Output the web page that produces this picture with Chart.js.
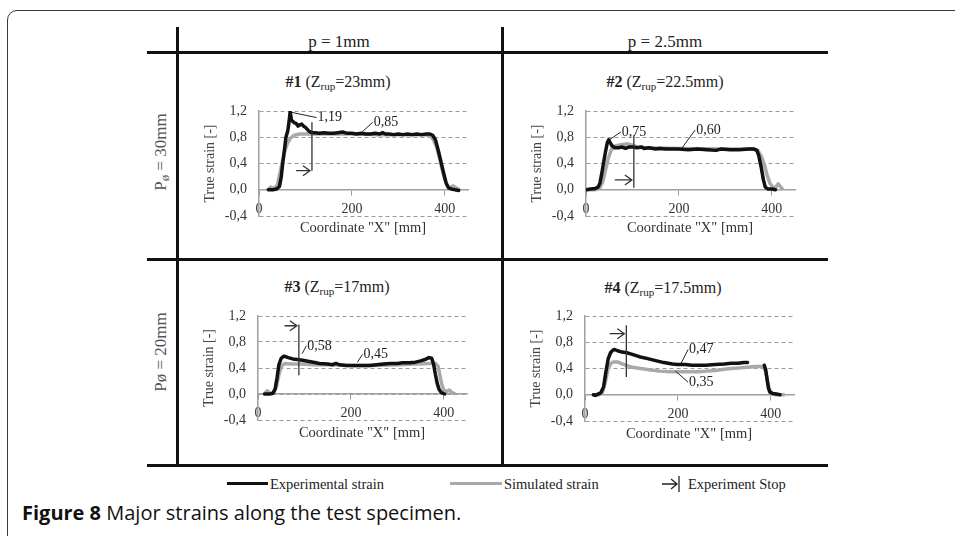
<!DOCTYPE html>
<html>
<head>
<meta charset="utf-8">
<script src="https://cdn.jsdelivr.net/npm/chart.js@4.4.1/dist/chart.umd.min.js"></script>
<style>
  html, body { margin: 0; padding: 0; background: #fff; }
  body { width: 955px; height: 536px; position: relative; overflow: hidden; font-family: "Liberation Serif", serif; color: #222; }
  .frame { position: absolute; left: 7px; top: 10px; width: 980px; height: 580px; border: 1.5px solid #3a3a3a; border-top-left-radius: 10px; box-sizing: border-box; }
  .rule { position: absolute; background: #111; }
  .t { position: absolute; white-space: nowrap; transform: translate(-50%, -50%); line-height: 1; }
  .head { font-size: 17px; color: #222; }
  .ttl { font-size: 16px; color: #222; }
  .ttl sub { font-size: 11px; vertical-align: -3px; line-height: 0; }
  .side { font-size: 17px; color: #555; transform: translate(-50%, -50%) rotate(-90deg); }
  .side sub { font-size: 13px; vertical-align: -3px; line-height: 0; }
  .xt { font-size: 14.5px; color: #333; }
  .chart { position: absolute; }
  .leg { position: absolute; font-size: 14.5px; color: #222; top: 476px; white-space: nowrap; }
  .sw { position: absolute; height: 3px; top: 482px; }
  .cap { position: absolute; left: 22px; top: 499px; font-family: "Open Sans", sans-serif; font-size: 20px; color: #111; white-space: nowrap; }
</style>
</head>
<body>
<div class="frame"></div>

<div class="rule" style="left:147px;top:50.5px;width:681px;height:3px"></div>
<div class="rule" style="left:147px;top:257.5px;width:681px;height:3px"></div>
<div class="rule" style="left:147px;top:463.5px;width:681px;height:3px"></div>
<div class="rule" style="left:175.5px;top:27px;width:3px;height:438px"></div>
<div class="rule" style="left:500.5px;top:27px;width:3px;height:438px"></div>

<div class="t head" style="left:339px;top:41px">p = 1mm</div>
<div class="t head" style="left:665px;top:41px">p = 2.5mm</div>
<div class="t side" style="left:160px;top:152px">P<sub>ø</sub> = 30mm</div>
<div class="t side" style="left:160px;top:352px">Pø = 20mm</div>

<div class="t ttl" style="left:338px;top:82px"><b>#1</b> (Z<sub>rup</sub>=23mm)</div>
<div class="t ttl" style="left:665px;top:82px"><b>#2</b> (Z<sub>rup</sub>=22.5mm)</div>
<div class="t ttl" style="left:337px;top:287px"><b>#3</b> (Z<sub>rup</sub>=17mm)</div>
<div class="t ttl" style="left:663px;top:288px"><b>#4</b> (Z<sub>rup</sub>=17.5mm)</div>

<canvas class="chart" id="c1" width="270" height="126" style="left:202px;top:100px"></canvas>
<canvas class="chart" id="c2" width="270" height="126" style="left:529px;top:100px"></canvas>
<canvas class="chart" id="c3" width="270" height="125" style="left:201px;top:305px"></canvas>
<canvas class="chart" id="c4" width="270" height="126" style="left:528px;top:305px"></canvas>

<div class="t xt" style="left:363px;top:227px">Coordinate "X" [mm]</div>
<div class="t xt" style="left:690px;top:227px">Coordinate "X" [mm]</div>
<div class="t xt" style="left:362px;top:432px">Coordinate "X" [mm]</div>
<div class="t xt" style="left:689px;top:433px">Coordinate "X" [mm]</div>

<div class="sw" style="left:227px;width:41px;background:#111"></div>
<div class="leg" style="left:270px">Experimental strain</div>
<div class="sw" style="left:450px;width:52px;background:#a9a9a9"></div>
<div class="leg" style="left:504px">Simulated strain</div>
<svg style="position:absolute;left:660px;top:475px" width="22" height="18">
  <path d="M2 9 H17 M11 4 L17 9 L11 14 M19 1 V17" stroke="#222" stroke-width="1.3" fill="none"/>
</svg>
<div class="leg" style="left:688px">Experiment Stop</div>

<div class="cap"><b>Figure 8</b> Major strains along the test specimen.</div>

<script>
// ---- chart #1 ----
const exp1X = [20, 30, 38, 44, 48, 51, 55, 58, 62, 65, 67, 70, 73, 76, 80, 84, 88, 92, 96, 100, 104, 108, 114, 120, 130, 140, 150, 160, 170, 180, 190, 200, 210, 220, 230, 240, 250, 260, 266, 272, 280, 290, 300, 310, 320, 330, 340, 350, 360, 368, 374, 380, 386, 392, 398, 403, 408, 415, 422, 430];
const exp1Y = [0.00, 0.00, 0.01, 0.05, 0.20, 0.40, 0.62, 0.80, 0.90, 1.05, 1.19, 1.06, 1.04, 1.02, 1.01, 0.97, 0.99, 1.00, 0.97, 0.95, 0.92, 0.89, 0.87, 0.87, 0.86, 0.87, 0.86, 0.86, 0.87, 0.88, 0.86, 0.86, 0.85, 0.86, 0.85, 0.85, 0.86, 0.85, 0.87, 0.85, 0.85, 0.84, 0.85, 0.84, 0.85, 0.84, 0.85, 0.84, 0.85, 0.85, 0.83, 0.76, 0.60, 0.42, 0.24, 0.10, 0.03, 0.01, 0.00, -0.01];
const sim1X = [20, 25, 30, 36, 40, 45, 50, 56, 62, 68, 76, 88, 100, 150, 200, 250, 300, 350, 366, 374, 382, 388, 394, 400, 406, 412, 418, 424, 432];
const sim1Y = [0.00, 0.04, 0.02, 0.04, 0.08, 0.25, 0.42, 0.60, 0.72, 0.79, 0.83, 0.85, 0.85, 0.85, 0.85, 0.84, 0.84, 0.84, 0.83, 0.78, 0.66, 0.50, 0.32, 0.16, 0.05, 0.03, 0.06, 0.03, 0.00];

// ---- chart #2 ----
const exp2X = [0, 10, 20, 26, 30, 34, 38, 42, 46, 49, 52, 56, 62, 70, 78, 85, 92, 100, 110, 120, 125, 135, 150, 160, 170, 180, 200, 220, 240, 260, 280, 290, 310, 330, 350, 362, 368, 372, 377, 382, 386, 392, 400, 408];
const exp2Y = [0.00, 0.01, 0.02, 0.04, 0.10, 0.25, 0.42, 0.58, 0.72, 0.76, 0.72, 0.67, 0.64, 0.64, 0.65, 0.63, 0.65, 0.65, 0.64, 0.65, 0.63, 0.64, 0.62, 0.63, 0.62, 0.62, 0.62, 0.61, 0.62, 0.61, 0.60, 0.62, 0.61, 0.61, 0.62, 0.62, 0.60, 0.52, 0.35, 0.15, 0.04, 0.01, 0.01, 0.00];
const sim2X = [0, 20, 30, 36, 42, 48, 54, 60, 70, 80, 90, 100, 110, 130, 200, 300, 360, 370, 378, 384, 390, 396, 402, 408, 414, 418, 424];
const sim2Y = [0.00, 0.00, 0.03, 0.12, 0.30, 0.48, 0.60, 0.66, 0.68, 0.69, 0.70, 0.68, 0.65, 0.64, 0.63, 0.62, 0.62, 0.60, 0.50, 0.38, 0.22, 0.10, 0.04, 0.03, 0.09, 0.05, 0.00];

// ---- chart #3 ----
const exp3X = [14, 25, 32, 37, 41, 45, 50, 55, 58, 65, 75, 85, 96, 110, 125, 132, 150, 160, 168, 175, 190, 205, 220, 240, 255, 270, 285, 300, 311, 325, 339, 350, 360, 368, 374, 378, 382, 386, 390, 395, 402];
const exp3Y = [0.00, 0.00, 0.01, 0.08, 0.25, 0.45, 0.55, 0.58, 0.58, 0.56, 0.54, 0.53, 0.52, 0.50, 0.48, 0.47, 0.46, 0.45, 0.47, 0.45, 0.44, 0.44, 0.44, 0.44, 0.45, 0.46, 0.47, 0.47, 0.48, 0.48, 0.49, 0.51, 0.53, 0.56, 0.55, 0.46, 0.30, 0.16, 0.07, 0.02, 0.00];
const sim3X = [14, 20, 26, 34, 40, 46, 52, 58, 70, 90, 120, 160, 200, 250, 300, 340, 370, 382, 388, 392, 396, 400, 406, 412, 418, 425];
const sim3Y = [0.00, 0.05, 0.01, 0.02, 0.12, 0.33, 0.44, 0.47, 0.46, 0.46, 0.45, 0.45, 0.44, 0.44, 0.45, 0.46, 0.47, 0.47, 0.42, 0.28, 0.14, 0.06, 0.04, 0.06, 0.02, 0.00];

// ---- chart #4 ----
const exp4X = [18, 22, 28, 34, 40, 45, 50, 55, 60, 64, 70, 80, 90, 100, 117, 135, 152, 170, 188, 200, 216, 230, 244, 260, 280, 300, 315, 330, 342, 350, 368, 386, 389, 392, 395, 398, 404, 412, 420];
const exp4Y = [0.00, -0.01, 0.01, 0.03, 0.12, 0.35, 0.55, 0.64, 0.68, 0.69, 0.67, 0.65, 0.64, 0.62, 0.58, 0.55, 0.52, 0.49, 0.47, 0.46, 0.46, 0.45, 0.45, 0.45, 0.46, 0.47, 0.48, 0.48, 0.49, 0.49, null, 0.45, 0.38, 0.24, 0.10, 0.04, 0.02, 0.01, 0.00];
const sim4X = [18, 30, 38, 44, 50, 56, 62, 70, 80, 92, 102, 120, 138, 160, 188, 220, 244, 262, 280, 300, 315, 335, 350, 365, 379, 384, 389, 393, 397, 402, 410, 430];
const sim4Y = [0.00, 0.00, 0.04, 0.20, 0.40, 0.48, 0.50, 0.50, 0.47, 0.44, 0.42, 0.40, 0.38, 0.36, 0.35, 0.35, 0.35, 0.36, 0.37, 0.39, 0.40, 0.41, 0.42, 0.43, 0.43, 0.42, 0.36, 0.20, 0.08, 0.02, 0.00, 0.00];

// ---- experiment stop marks and value notes ----
const stopX = [114, 103, 88, 89];
const stopLow = [0.29, 0.03, 0.29, 0.27];
const stopHigh = [1.03, 0.83, 1.07, 1.06];
const arrowY = [0.29, 0.15, 1.05, 0.93];
const arrowFrom = [80, 62, 57, 53];
const noteText = [["1,19", "0,85"], ["0,75", "0,60"], ["0,58", "0,45"], ["0,47", "0,35"]];
const noteFrom = [[[70, 1.18], [222, 0.88]], [[50, 0.76], [207, 0.64]], [[95, 0.62], [214, 0.49]], [[207, 0.48], [195, 0.36]]];
const noteTo = [[[124, 1.10], [245, 1.03]], [[75, 0.88], [235, 0.91]], [[104, 0.74], [225, 0.61]], [[222, 0.69], [222, 0.19]]];

const serif = "Liberation Serif";

const stopMarks = {
  id: "stopMarks",
  afterDatasetsDraw(chart, args, opts) {
    const i = opts.idx;
    const { ctx, scales: { x, y } } = chart;
    ctx.save();
    ctx.strokeStyle = "#333";
    ctx.lineWidth = 1.3;
    const sx = x.getPixelForValue(stopX[i]);
    const ay = y.getPixelForValue(arrowY[i]);
    ctx.beginPath();
    ctx.moveTo(sx, y.getPixelForValue(stopLow[i]));
    ctx.lineTo(sx, y.getPixelForValue(stopHigh[i]));
    ctx.moveTo(x.getPixelForValue(arrowFrom[i]), ay);
    ctx.lineTo(sx - 2, ay);
    ctx.moveTo(sx - 9, ay - 5);
    ctx.lineTo(sx - 2, ay);
    ctx.lineTo(sx - 9, ay + 5);
    ctx.stroke();

    ctx.lineWidth = 1;
    ctx.strokeStyle = "#222";
    ctx.fillStyle = "#222";
    ctx.font = "14px '" + serif + "'";
    ctx.textBaseline = "middle";
    noteText[i].forEach((t, k) => {
      const fx = x.getPixelForValue(noteFrom[i][k][0]), fy = y.getPixelForValue(noteFrom[i][k][1]);
      const tx = x.getPixelForValue(noteTo[i][k][0]), ty = y.getPixelForValue(noteTo[i][k][1]);
      ctx.beginPath();
      ctx.moveTo(fx, fy);
      ctx.lineTo(tx, ty);
      ctx.stroke();
      ctx.fillText(t, tx + 1, ty);
    });
    ctx.restore();
  }
};

function pts(xs, ys) {
  return xs.map((x, k) => ({ x: x, y: ys[k] }));
}

function makeChart(id, i, ex, ey, sx, sy) {
  new Chart(document.getElementById(id), {
    type: "line",
    data: {
      datasets: [
        { label: "Experimental strain", data: pts(ex, ey), borderColor: "#111", borderWidth: 3.5, pointRadius: 0, tension: 0, spanGaps: false, borderJoinStyle: "round", borderCapStyle: "round" },
        { label: "Simulated strain", data: pts(sx, sy), borderColor: "#a9a9a9", borderWidth: 3.5, pointRadius: 0, tension: 0, borderJoinStyle: "round" }
      ]
    },
    options: {
      responsive: false,
      animation: false,
      layout: { padding: { top: 11, bottom: 10, right: 4, left: 0 } },
      plugins: { legend: { display: false }, tooltip: { enabled: false }, stopMarks: { idx: i } },
      scales: {
        x: {
          type: "linear", position: { y: 0 }, min: 0, max: 450,
          afterFit: (s) => { s.height = 0; },
          grid: { drawOnChartArea: false, drawTicks: true, tickLength: 5, color: "#999" },
          border: { color: "#a0a0a0", width: 1.5 },
          ticks: { stepSize: 200, includeBounds: false, padding: 6, color: "#333", font: { family: serif, size: 14 } }
        },
        y: {
          min: -0.4, max: 1.2,
          afterFit: (s) => { s.width = 57; },
          // the gap between labels and axis comes from an invisible tick mark, so it
          // does not add top/bottom padding to the plot area
          grid: { color: "#9a9a9a", drawTicks: true, tickLength: 12, tickColor: "rgba(0,0,0,0)" },
          border: { color: "#a0a0a0", width: 1.5, dash: [4, 3] },
          ticks: { stepSize: 0.4, padding: 0, color: "#333", font: { family: serif, size: 14 }, callback: (v) => v.toFixed(1).replace(".", ",") },
          title: { display: true, text: "True strain [-]", color: "#444", padding: 0, font: { family: serif, size: 14 } }
        }
      }
    },
    plugins: [stopMarks]
  });
}

makeChart("c1", 0, exp1X, exp1Y, sim1X, sim1Y);
makeChart("c2", 1, exp2X, exp2Y, sim2X, sim2Y);
makeChart("c3", 2, exp3X, exp3Y, sim3X, sim3Y);
makeChart("c4", 3, exp4X, exp4Y, sim4X, sim4Y);
</script>
</body>
</html>
